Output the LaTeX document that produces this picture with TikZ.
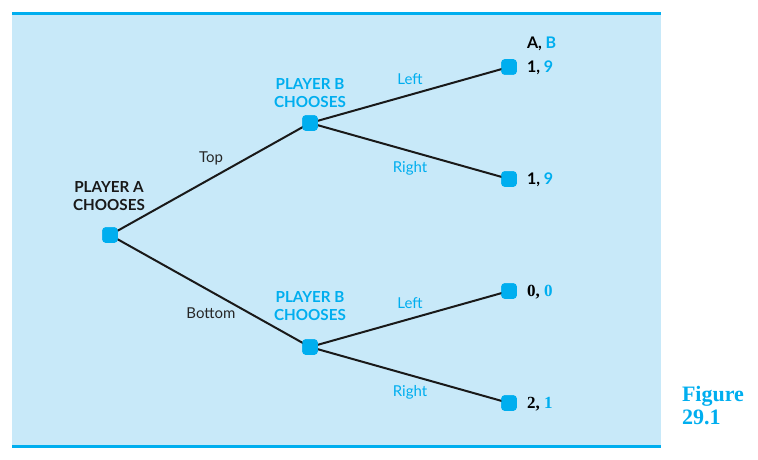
\documentclass[tikz,border=0pt]{standalone}
\usepackage{fontspec}
\setmainfont{Liberation Serif}
\newfontfamily\lab{Lato}
\begin{document}
\begin{tikzpicture}[x=1pt,y=-1pt,
  every node/.style={inner sep=0pt, outer sep=0pt},
  choice/.style={draw=none, fill=cyanA, rounded corners=3.5pt, minimum size=15.5pt},
  branch/.style={line width=2pt, black!90},
  labtxt/.style={font=\lab\fontsize{15}{18}\selectfont},
  playerlab/.style={font=\lab\bfseries\fontsize{15.2}{18}\selectfont, align=center},
  payoff/.style={anchor=west, font=\lab\bfseries\fontsize{16}{18}\selectfont},
  payoffs/.style={anchor=west, font=\bfseries\fontsize{17}{18}\selectfont},
]
\definecolor{cyanA}{HTML}{00AEEF}
\definecolor{bgA}{HTML}{C8E9F9}
\useasboundingbox (0,0) rectangle (758,460);
\fill[bgA] (12,14) rectangle (661,446);
\draw[cyanA, line width=3pt] (12,14) -- (661,14);
\draw[cyanA, line width=3pt] (12,446) -- (661,446);

\node[choice] (a) at (110,235) {};
\node[choice] (bt) at (310,123) {};
\node[choice] (bb) at (310,347) {};
\node[choice] (l1) at (509,67) {};
\node[choice] (l2) at (509,179) {};
\node[choice] (l3) at (509,291) {};
\node[choice] (l4) at (509,403) {};

\draw[branch] (a.center) -- (bt.center);
\draw[branch] (a.center) -- (bb.center);
\draw[branch] (bt.center) -- (l1.center);
\draw[branch] (bt.center) -- (l2.center);
\draw[branch] (bb.center) -- (l3.center);
\draw[branch] (bb.center) -- (l4.center);
\node[choice] at (a) {};
\node[choice] at (bt) {};
\node[choice] at (bb) {};
\node[choice] at (l1) {};
\node[choice] at (l2) {};
\node[choice] at (l3) {};
\node[choice] at (l4) {};

\node[playerlab, text=black!90] (pa) at (109,196) {PLAYER A\\CHOOSES};
\node[playerlab, text=cyanA] (pbt) at (310,93) {PLAYER B\\CHOOSES};
\node[playerlab, text=cyanA] (pbb) at (310,306) {PLAYER B\\CHOOSES};

\node[labtxt, text=black!85] (top) at (211,158) {Top};
\node[labtxt, text=black!85] (bot) at (211,313) {Bottom};
\node[labtxt, text=cyanA] (lt) at (410,79) {Left};
\node[labtxt, text=cyanA] (rt) at (410,168) {Right};
\node[labtxt, text=cyanA] (lb) at (410,303) {Left};
\node[labtxt, text=cyanA] (rb) at (410,392) {Right};

\node[payoff] (hdr) at (527,44) {A, \textcolor{cyanA}{B}};
\node[payoff] (p1) at (527,68) {1, \textcolor{cyanA}{9}};
\node[payoff] (p2) at (527,180) {1, \textcolor{cyanA}{9}};
\node[payoffs] (p3) at (527,292) {0, \textcolor{cyanA}{0}};
\node[payoffs] (p4) at (527,404) {2, \textcolor{cyanA}{1}};

\node[anchor=north west, align=left, text=cyanA, font=\bfseries\fontsize{22}{23}\selectfont] (fig) at (682,386) {Figure\\29.1};
\end{tikzpicture}
\end{document}
